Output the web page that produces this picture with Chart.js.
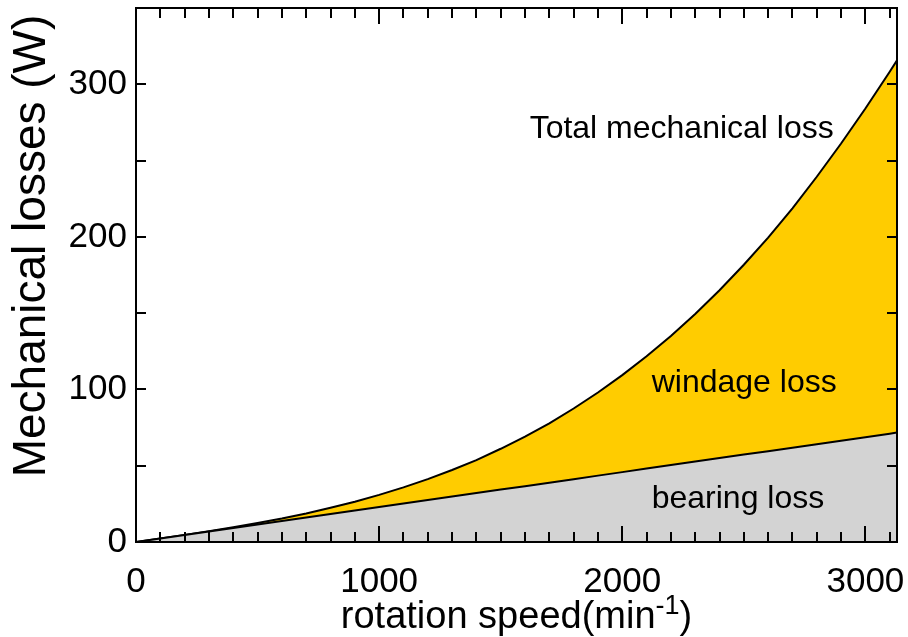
<!DOCTYPE html>
<html>
<head>
<meta charset="utf-8">
<script src="https://cdn.jsdelivr.net/npm/chart.js@4/dist/chart.umd.min.js"></script>
<style>
  html, body { margin: 0; padding: 0; background: #fff; }
  canvas { display: block; }
</style>
</head>
<body>
<canvas id="chart" width="908" height="637"></canvas>
<script>
// Rotation speed (min^-1)
const speeds = [0, 100, 200, 300, 400, 500, 600, 700, 800, 900, 1000, 1100, 1200, 1300, 1400, 1500,
  1600, 1700, 1800, 1900, 2000, 2100, 2200, 2300, 2400, 2500, 2600, 2700, 2800, 2900, 3000, 3100, 3130];

// Bearing loss (W)
const bearingLoss = [0, 2.3, 4.6, 6.9, 9.2, 11.5, 13.7, 16.0, 18.3, 20.6, 22.9, 25.2, 27.5, 29.8, 32.1, 34.4,
  36.6, 38.9, 41.2, 43.5, 45.8, 48.1, 50.4, 52.7, 55.0, 57.3, 59.5, 61.8, 64.1, 66.4, 68.7, 71.0, 71.7];

// Windage loss (W), stacked on top of the bearing loss
const windageLoss = [0, 0.01, 0.06, 0.22, 0.51, 1.0, 1.7, 2.7, 4.1, 5.8, 8.0, 10.6, 13.7, 17.4, 21.6, 26.7,
  32.4, 38.9, 46.3, 54.5, 63.6, 73.6, 84.6, 96.7, 110.0, 124.4, 140.0, 156.9, 175.3, 194.8, 215.4, 237.2, 244.0];

const xTickValues = [0, 1000, 2000, 3000];
const yTickValues = [0, 100, 200, 300];
const xMinorStep = 100;
const yMinorStep = 50;
const xRange = [0, 3130];
const yRange = [0, 350];

const regionLabels = [
  { text: 'Total mechanical loss', x: 1619, y: 265 },
  { text: 'windage loss', x: 2121, y: 98.5 },
  { text: 'bearing loss', x: 2121, y: 22.3 }
];

const FONT = '"Liberation Sans", Arial, Helvetica, sans-serif';

// Frame, inward ticks, axis titles and region labels
const framePlugin = {
  id: 'frameAndLabels',
  afterDatasetsDraw(chart) {
    const { ctx, chartArea: a, scales: { x, y } } = chart;
    ctx.save();
    ctx.strokeStyle = '#000';
    ctx.lineWidth = 2;
    ctx.beginPath();
    for (let v = xRange[0]; v <= xRange[1]; v += xMinorStep) {
      const px = Math.round(x.getPixelForValue(v));
      const len = xTickValues.includes(v) ? 16 : 10;
      ctx.moveTo(px, a.bottom); ctx.lineTo(px, a.bottom - len);
      ctx.moveTo(px, a.top); ctx.lineTo(px, a.top + len);
    }
    for (let v = yRange[0]; v <= yRange[1]; v += yMinorStep) {
      const py = Math.round(y.getPixelForValue(v));
      ctx.moveTo(a.left, py); ctx.lineTo(a.left + 10, py);
      ctx.moveTo(a.right, py); ctx.lineTo(a.right - 10, py);
    }
    ctx.stroke();
    ctx.strokeRect(a.left, a.top, a.right - a.left, a.bottom - a.top);

    ctx.fillStyle = '#000';

    // region labels
    ctx.font = '32px ' + FONT;
    ctx.textAlign = 'left';
    ctx.textBaseline = 'alphabetic';
    regionLabels.forEach(l => {
      ctx.fillText(l.text, x.getPixelForValue(l.x), y.getPixelForValue(l.y));
    });

    // x axis title with superscript
    const main = 'rotation speed(min';
    const sup = '-1';
    const close = ')';
    ctx.font = '38px ' + FONT;
    const wMain = ctx.measureText(main).width;
    const wClose = ctx.measureText(close).width;
    ctx.font = '27px ' + FONT;
    const wSup = ctx.measureText(sup).width;
    const total = wMain + wSup + wClose;
    let sx = (a.left + a.right) / 2 - total / 2;
    const base = 628;
    ctx.font = '38px ' + FONT;
    ctx.fillText(main, sx, base);
    ctx.font = '27px ' + FONT;
    ctx.fillText(sup, sx + wMain, base - 14);
    ctx.font = '38px ' + FONT;
    ctx.fillText(close, sx + wMain + wSup, base);

    // y axis title
    ctx.translate(32, 246);
    ctx.rotate(-Math.PI / 2);
    ctx.font = '46px ' + FONT;
    ctx.textAlign = 'center';
    ctx.textBaseline = 'middle';
    ctx.fillText('Mechanical losses (W)', 0, 0);
    ctx.restore();
  }
};

// keep the plot area fixed: no extra room reserved for overhanging tick labels
function fixScale(s, size) {
  if (s.isHorizontal()) s.height = size; else s.width = size;
  s.paddingTop = 0; s.paddingBottom = 0; s.paddingLeft = 0; s.paddingRight = 0;
}

new Chart(document.getElementById('chart'), {
  type: 'line',
  data: {
    datasets: [
      {
        label: 'bearing loss',
        data: speeds.map((s, i) => ({ x: s, y: bearingLoss[i] })),
        fill: 'origin',
        backgroundColor: '#d3d3d3',
        borderColor: '#000',
        borderWidth: 2,
        pointRadius: 0,
        tension: 0
      },
      {
        label: 'windage loss',
        data: speeds.map((s, i) => ({ x: s, y: windageLoss[i] })),
        fill: '-1',
        backgroundColor: '#ffcc00',
        borderColor: '#000',
        borderWidth: 2,
        pointRadius: 0,
        tension: 0
      }
    ]
  },
  options: {
    responsive: false,
    animation: false,
    layout: { padding: { top: 8, right: 11, left: 0, bottom: 0 } },
    plugins: { legend: { display: false }, tooltip: { enabled: false } },
    scales: {
      x: {
        type: 'linear',
        min: xRange[0],
        max: xRange[1],
        grid: { display: false, drawTicks: false },
        border: { display: false },
        afterBuildTicks: s => { s.ticks = xTickValues.map(v => ({ value: v })); },
        afterFit: s => fixScale(s, 95),
        ticks: {
          padding: 19,
          color: '#000',
          maxRotation: 0,
          autoSkip: false,
          font: { family: FONT, size: 35 },
          callback: v => String(v)
        }
      },
      y: {
        type: 'linear',
        stacked: true,
        min: yRange[0],
        max: yRange[1],
        grid: { display: false, drawTicks: false },
        border: { display: false },
        afterBuildTicks: s => { s.ticks = yTickValues.map(v => ({ value: v })); },
        afterFit: s => fixScale(s, 136),
        ticks: {
          padding: 9,
          color: '#000',
          font: { family: FONT, size: 35 },
          callback: v => String(v)
        }
      }
    }
  },
  plugins: [framePlugin]
});
</script>
</body>
</html>
